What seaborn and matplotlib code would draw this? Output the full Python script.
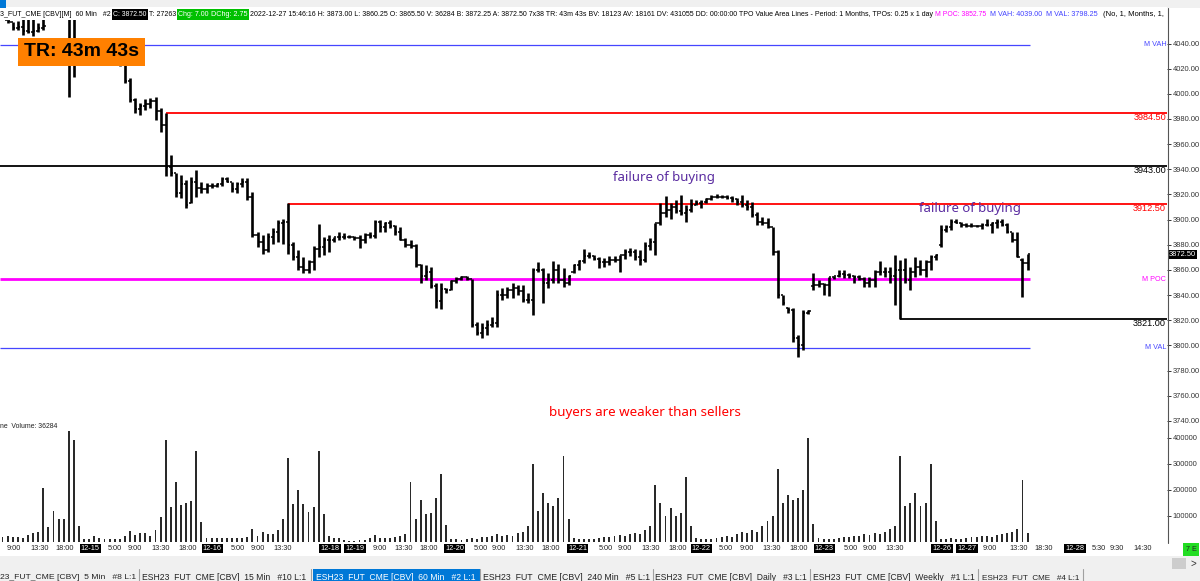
import numpy as np
import seaborn as sns
import matplotlib
matplotlib.use('Agg')  # no display
import matplotlib.pyplot as plt
from matplotlib.patches import Rectangle
from matplotlib.lines import Line2D
from matplotlib.transforms import blended_transform_factory

# ESH23 60 min bars, 2022-12-14 .. 2022-12-27
bar_high = [
    4068, 4059, 4057, 4058, 4060, 4060, 4060, 4056, 4060, 4044,
    4042, 4040, 4042, 4066, 4064, 4044, 4042, 4040, 4043, 4044,
    4042, 4038, 4036, 4034, 4023, 4012.5, 3997, 3993, 3996, 3997,
    3997.5, 3989, 3985, 3951, 3937, 3935.5, 3931.5, 3934, 3939.5, 3930,
    3929, 3929, 3929, 3934, 3934, 3930, 3930, 3933, 3933, 3922,
    3890, 3888, 3889.5, 3893, 3900, 3900.5, 3913, 3882, 3876, 3870,
    3868, 3879, 3896.5, 3886, 3888, 3886, 3890, 3889, 3888, 3887,
    3888, 3889.5, 3890, 3900, 3900, 3898, 3900, 3896, 3894, 3885,
    3884, 3881, 3865, 3864, 3862, 3849.5, 3849.5, 3845.5, 3852, 3854,
    3855, 3855, 3853, 3818.5, 3817.5, 3820, 3822.5, 3844, 3845.5, 3846.5,
    3849.5, 3848, 3848, 3842, 3861.5, 3866, 3861.5, 3857.5, 3867, 3865,
    3861.5, 3856, 3865, 3868, 3877, 3874, 3872, 3870, 3869.5, 3871,
    3871, 3872, 3877, 3877.5, 3877, 3876, 3882, 3885, 3897, 3913,
    3918.5, 3913, 3915.5, 3919.5, 3911.5, 3916, 3915.5, 3915.5, 3917, 3919.5,
    3920, 3919.5, 3919.5, 3918.5, 3917, 3919.5, 3915.5, 3914, 3906, 3902,
    3901, 3894, 3876, 3840, 3830.5, 3830, 3808, 3828, 3828, 3857.5,
    3852, 3850, 3854, 3855, 3860, 3860, 3857.5, 3856, 3856, 3854,
    3854, 3860, 3867, 3862, 3862, 3872, 3868, 3869.5, 3862, 3870,
    3868, 3868, 3872, 3873, 3895.5, 3895.5, 3900.5, 3900.5, 3898, 3897,
    3897, 3896, 3897, 3900.5, 3898, 3900.5, 3900.5, 3897, 3890, 3890,
    3869.5, 3873,
]
bar_low = [
    4060, 4056, 4051, 4051, 4047, 4048, 4046, 4049, 4051, 4036,
    4032, 4030, 4033, 3997.5, 4013, 4030, 4028, 4026, 4030, 4034,
    4030, 4027, 4025, 4022, 4008.5, 3993.5, 3985, 3983, 3987, 3989,
    3979, 3970, 3935, 3935, 3918, 3917, 3909, 3913, 3918, 3921,
    3921, 3925, 3926, 3927, 3930, 3922, 3921, 3926, 3915.5, 3886,
    3878, 3873, 3874, 3881, 3882, 3881, 3873, 3868, 3860, 3857.5,
    3857.5, 3860, 3870, 3872, 3874, 3882, 3884, 3884.5, 3885, 3884,
    3877.5, 3881.5, 3885.5, 3885.5, 3890, 3890, 3893, 3888, 3884, 3878,
    3877.5, 3862, 3850, 3852, 3845.5, 3830, 3829, 3842, 3844, 3849.5,
    3852, 3852, 3814.5, 3808, 3806, 3808, 3814.5, 3814.5, 3836, 3838,
    3838, 3840, 3834.5, 3834, 3824, 3858, 3834, 3845.5, 3850, 3849.5,
    3846.5, 3848, 3857.5, 3860, 3865.5, 3869.5, 3868, 3861.5, 3862, 3864,
    3866, 3858.5, 3869, 3871, 3868, 3864, 3866.5, 3876, 3872, 3895.5,
    3902, 3900.5, 3905, 3903.5, 3898, 3906, 3911.5, 3909, 3913, 3915.5,
    3917, 3917, 3916, 3914, 3911.5, 3910, 3908, 3902, 3896, 3896,
    3893, 3872, 3838, 3832, 3826, 3803, 3791, 3796, 3825, 3844,
    3846.5, 3840, 3839, 3853, 3854, 3853.5, 3853.5, 3850, 3852, 3846.5,
    3846.5, 3846.5, 3856, 3854, 3849.5, 3832, 3821, 3849.5, 3844, 3854,
    3856, 3854, 3860, 3868, 3878, 3890, 3891.5, 3897, 3894, 3894,
    3894.5, 3894, 3892.5, 3895, 3889, 3893, 3895, 3889, 3882, 3870,
    3838.5, 3860.25,
]
bar_open = [
    4066, 4062, 4058, 4052, 4053, 4050, 4049, 4050, 4052, 4043,
    4040, 4034, 4036, 4040, 4030, 4038, 4036, 4032, 4035, 4040,
    4038, 4033, 4030, 4028, 4023, 4010, 3995, 3988, 3990, 3992,
    3994, 3986, 3975, 3942, 3937, 3921, 3928, 3912, 3930, 3925,
    3924, 3927, 3927, 3928, 3932, 3930, 3924, 3928, 3930, 3918,
    3888, 3882, 3876, 3886, 3890, 3897, 3898, 3880, 3870, 3862,
    3860, 3866, 3877, 3878, 3884, 3884, 3886, 3886, 3886, 3886,
    3885, 3884, 3888, 3887, 3898, 3894, 3897, 3895, 3890, 3884,
    3880, 3879, 3864, 3855, 3858, 3847, 3835, 3845, 3844, 3851,
    3853, 3854, 3853, 3816, 3810, 3814, 3816, 3818, 3840, 3840,
    3844, 3846, 3843, 3836, 3836, 3860, 3860, 3850, 3852, 3860,
    3852, 3850, 3858, 3864, 3867, 3871, 3871, 3869, 3866, 3866,
    3868, 3868, 3872, 3874, 3874, 3870, 3868, 3879, 3882, 3897,
    3905, 3908, 3910, 3907, 3905, 3908, 3912, 3913, 3914, 3916,
    3918, 3918, 3918, 3917, 3916, 3914, 3912, 3910, 3904, 3898,
    3897, 3894, 3874, 3840, 3830, 3828, 3806, 3800, 3826, 3847,
    3848, 3849, 3848, 3854, 3855, 3857, 3856, 3855, 3854, 3853,
    3850, 3852, 3858, 3858, 3858, 3855, 3860, 3860, 3852, 3858,
    3862, 3860, 3866, 3870, 3880, 3892, 3894, 3898, 3897, 3896,
    3895, 3895, 3895, 3896, 3896, 3897, 3898, 3896, 3890, 3884,
    3868, 3865.5,
]
bar_close = [
    4062, 4058, 4052, 4053, 4050, 4049, 4050, 4052, 4054, 4040,
    4034, 4036, 4040, 4030, 4038, 4036, 4032, 4035, 4040, 4038,
    4033, 4030, 4028, 4023, 4010, 3995, 3988, 3990, 3992, 3994,
    3986, 3975, 3942, 3937, 3921, 3928, 3912, 3930, 3925, 3924,
    3927, 3927, 3928, 3932, 3930, 3924, 3928, 3930, 3918, 3888,
    3882, 3876, 3886, 3890, 3897, 3898, 3880, 3870, 3862, 3860,
    3866, 3877, 3878, 3884, 3884, 3886, 3886, 3886, 3886, 3885,
    3884, 3888, 3887, 3898, 3894, 3897, 3895, 3890, 3884, 3880,
    3879, 3864, 3855, 3858, 3847, 3835, 3845, 3844, 3851, 3853,
    3854, 3853, 3816, 3810, 3814, 3816, 3818, 3840, 3840, 3844,
    3846, 3843, 3836, 3836, 3860, 3860, 3850, 3852, 3860, 3852,
    3850, 3855, 3864, 3867, 3871, 3871, 3869, 3866, 3866, 3868,
    3868, 3872, 3874, 3874, 3870, 3868, 3879, 3882, 3897, 3905,
    3908, 3910, 3907, 3905, 3908, 3912, 3913, 3914, 3916, 3918,
    3918, 3918, 3917, 3916, 3914, 3912, 3910, 3904, 3898, 3897,
    3894, 3874, 3840, 3834, 3828, 3806, 3800, 3826, 3827, 3848,
    3849, 3848, 3854, 3855, 3857, 3856, 3855, 3854, 3853, 3850,
    3852, 3858, 3858, 3858, 3855, 3860, 3860, 3852, 3858, 3862,
    3860, 3866, 3870, 3872, 3892, 3894, 3898, 3897, 3896, 3895,
    3895, 3895, 3896, 3896, 3897, 3898, 3896, 3890, 3884, 3870,
    3865.5, 3872.5,
]
bar_volume = [
    20000, 23000, 19000, 20000, 17000, 27000, 35000, 38000, 208000, 58000,
    119000, 88000, 88000, 427000, 392000, 62000, 12000, 12000, 23000, 15000,
    10000, 10000, 10000, 10000, 23000, 42000, 27000, 35000, 35000, 23000,
    46000, 96000, 392000, 135000, 231000, 142000, 150000, 158000, 350000, 77000,
    15000, 15000, 15000, 15000, 15000, 15000, 15000, 17000, 20000, 50000,
    23000, 38000, 31000, 30000, 46000, 88000, 323000, 146000, 200000, 146000,
    115000, 135000, 350000, 108000, 23000, 17000, 17000, 8000, 3000, 3000,
    8000, 8000, 15000, 27000, 15000, 17000, 17000, 20000, 23000, 31000,
    231000, 88000, 162000, 108000, 113000, 169000, 262000, 65000, 12000, 10000,
    8000, 10000, 15000, 12000, 20000, 18000, 25000, 30000, 22000, 28000,
    25000, 35000, 40000, 60000, 300000, 120000, 190000, 150000, 140000, 170000,
    330000, 90000, 15000, 12000, 10000, 10000, 12000, 15000, 20000, 18000,
    22000, 28000, 25000, 30000, 35000, 30000, 45000, 60000, 220000, 150000,
    100000, 130000, 100000, 110000, 250000, 60000, 15000, 12000, 12000, 10000,
    15000, 20000, 25000, 20000, 30000, 40000, 35000, 45000, 40000, 60000,
    80000, 100000, 280000, 150000, 180000, 160000, 170000, 200000, 400000, 70000,
    15000, 12000, 10000, 12000, 15000, 20000, 18000, 25000, 22000, 30000,
    28000, 35000, 30000, 40000, 50000, 60000, 330000, 140000, 150000, 190000,
    140000, 150000, 300000, 80000, 10000, 12000, 15000, 10000, 12000, 15000,
    20000, 18000, 25000, 22000, 20000, 28000, 30000, 35000, 40000, 50000,
    240000, 36284,
]

# time scale labels and the bar slot they sit on
time_labels = ['9:00', '13:30', '18:00', '12-15', '5:00', '9:00', '13:30', '18:00', '12-16',
               '5:00', '9:00', '13:30', '12-18', '12-19', '9:00', '13:30', '18:00', '12-20',
               '5:00', '9:00', '13:30', '18:00', '12-21', '5:00', '9:00', '13:30', '18:00', '12-22',
               '5:00', '9:00', '13:30', '18:00', '12-23', '5:00', '9:00', '13:30', '12-26', '12-27',
               '9:00', '13:30', '18:30', '12-28', '5:30', '9:30', '14:30']
time_slots = [2.25, 7.35, 12.25, 17.2, 22.1, 26, 31.1, 36.4, 41.1,
              46.2, 50.1, 55, 64.2, 69.1, 74, 78.7, 83.6, 88.7,
              93.8, 97.3, 102.3, 107.5, 112.8, 118.3, 122, 127, 132.3, 137,
              141.9, 146, 150.9, 156.2, 161.1, 166.4, 170.1, 175, 184.2, 189.1,
              193.6, 199.3, 204.2, 210.3, 215, 218.5, 223.6]

# TPO value area and drawn levels
level_names = ['M VAH', '3984.50', '3943.00', '3912.50', 'M POC', '3821.00', 'M VAL']
level_price = [4039.00, 3984.50, 3943.00, 3912.50, 3852.75, 3821.00, 3798.25]
level_first_bar = [0, 32, 0, 56, 0, 176, 0]
value_area = ['M VAH', 'M POC', 'M VAL']  # these stop at the last bar

last_price = 3872.50
price_ticks = list(range(3740, 4041, 20))
volume_ticks = [100000, 200000, 300000, 400000]

level_colors = {'M VAH': '#4646ff', '3984.50': '#ff0000', '3943.00': '#000000',
                '3912.50': '#ff0000', 'M POC': '#ff00ff', '3821.00': '#000000',
                'M VAL': '#4646ff'}

W, H = 1200, 581
FONT = ['Liberation Sans', 'DejaVu Sans']
NOTE_FONT = ['Noto Sans', 'DejaVu Sans']

sns.set_theme(style='white')
plt.rcParams['font.family'] = FONT

fig = plt.figure(figsize=(W / 100, H / 100), dpi=100)
fig.patch.set_facecolor('white')
renderer = fig.canvas.get_renderer()


def fx(px):
    return px / W


def fy(py):
    return 1 - py / H


def box(x0, y0, x1, y1, color, z=1):
    fig.patches.append(Rectangle((fx(x0), fy(y1)), fx(x1) - fx(x0), fy(y0) - fy(y1),
                                 transform=fig.transFigure, facecolor=color,
                                 edgecolor='none', zorder=z))


def fit_text(x0, x1, py, s, color='black', **kw):
    """Place text at left x0 and scale the font so it ends at x1."""
    t = fig.text(fx(x0), fy(py), s, color=color, ha='left', va='center',
                 fontsize=6, zorder=5, **kw)
    w = t.get_window_extent(renderer=renderer).width
    t.set_fontsize(6 * (x1 - x0) / w)
    return t


# axes: price panel and volume panel
PLOT_R = 1167
ax = fig.add_axes([0, fy(428), fx(PLOT_R), (428 - 20) / H])
axv = fig.add_axes([0, fy(543), fx(PLOT_R), (543 - 428) / H])

slot0, slot_w = 2.5, 5.1
xlim = (-slot0 / slot_w, (PLOT_R - slot0) / slot_w)
px_per_pt = 1.258
ylim = (4040 - (428 - 43.5) / px_per_pt, 4040 + (43.5 - 20) / px_per_pt)

x = np.arange(len(bar_close))
lo = np.array(bar_low)
hi = np.array(bar_high)

# value area / level lines
last_slot = x[-1] + 0.5
for name, price, first in zip(level_names, level_price, level_first_bar):
    end = last_slot if name in value_area else xlim[1]
    lw = 2.0 if name == 'M POC' else (0.9 if name in value_area else 1.3)
    ax.plot([first - 0.5 if first == 0 else first, end], [price, price],
            color=level_colors[name], lw=lw, zorder=2, solid_capstyle='butt')

# OHLC bars
ax.vlines(x, lo, hi, color='black', lw=1.9, zorder=3)
ax.hlines(np.clip(bar_open, lo, hi), x - 0.45, x, color='black', lw=1.1, zorder=3)
ax.hlines(np.clip(bar_close, lo, hi), x, x + 0.45, color='black', lw=1.1, zorder=3)

ax.set_xlim(*xlim)
ax.set_ylim(*ylim)
ax.set_xticks([])
ax.set_yticks(price_ticks)
ax.yaxis.set_major_formatter('{x:.2f}')
ax.yaxis.tick_right()
ax.tick_params(axis='y', right=True, left=False, length=3, width=0.7, pad=1,
               labelsize=5.4, colors='#333333')
for s in ax.spines.values():
    s.set_visible(False)

# level labels at the right end of the plot area
tr = blended_transform_factory(ax.transAxes, ax.transData)
for name, price in zip(level_names, level_price):
    small = name in value_area
    ax.text(0.9993, price, name, transform=tr, ha='right',
            va='center' if small else 'top', color=level_colors[name],
            fontsize=5.2 if small else 6.6, zorder=4)

ax.text(1.0015, last_price, f'{last_price:.2f}', transform=tr, ha='left', va='center',
        color='white', fontsize=5.4, clip_on=False, zorder=6,
        bbox=dict(boxstyle='square,pad=0.12', facecolor='black', edgecolor='none'))

# annotations
ax.text(129.7, 3933.1, 'failure of buying', color='#5a2ca0', fontsize=9.5,
        ha='center', va='center', family=NOTE_FONT)
ax.text(189.7, 3909.2, 'failure of buying', color='#5a2ca0', fontsize=9.5,
        ha='center', va='center', family=NOTE_FONT)
ax.text(126.0, 3746.3, 'buyers are weaker than sellers', color='#ff0000', fontsize=9.6,
        ha='center', va='center', family=NOTE_FONT)

# volume panel
sns.barplot(x=x, y=bar_volume, native_scale=True, orient='x', width=0.38,
            color='#2a2a2a', saturation=1, linewidth=0, errorbar=None, ax=axv)
axv.set_xlim(*xlim)
axv.set_ylim(-100000 / 26, 114 * 100000 / 26)
axv.set_xlabel('')
axv.set_ylabel('')
axv.set_yticks(volume_ticks)
axv.yaxis.set_major_formatter('{x:.0f}')
axv.yaxis.tick_right()
axv.tick_params(axis='y', right=True, left=False, length=3, width=0.7, pad=1,
                labelsize=5.4, colors='#333333')
axv.set_xticks(time_slots)
axv.set_xticklabels(time_labels)
axv.tick_params(axis='x', bottom=False, length=0, pad=1.2, labelsize=5.3, colors='#222222')
for lbl in axv.get_xticklabels():
    if '-' in lbl.get_text():
        lbl.set_color('white')
        lbl.set_bbox(dict(boxstyle='square,pad=0.15', facecolor='black', edgecolor='none'))
for s in axv.spines.values():
    s.set_visible(False)

fit_text(0, 58, 426, 'ne  Volume: 36284', color='#222222')

# right hand axis line
fig.lines.append(Line2D([fx(PLOT_R + 0.5)] * 2, [fy(8), fy(543)], transform=fig.transFigure,
                        color='#555555', lw=0.8, zorder=4))

# window strip and header line
box(0, 0, W, 7.5, '#f0f0f0')
box(0, 0, 6, 8, '#0078d7', z=2)
box(0, 7.5, PLOT_R, 20, 'white')
header = [
    (0, 111, '3_FUT_CME [CBV][M]  60 Min   #2', 'black', None),
    (113, 147, 'C: 3872.50', 'white', 'black'),
    (149, 176, 'T: 27263', 'black', None),
    (178, 209, 'Chg: 7.00', 'white', '#00c000'),
    (211, 248, 'DChg: 2.75', 'white', '#00c000'),
    (250, 931, '2022-12-27 15:46:16 H: 3873.00 L: 3860.25 O: 3865.50 V: 36284 '
               'B: 3872.25 A: 3872.50 7x38 TR: 43m 43s BV: 18123 AV: 18161 DV: 431055 '
               'DD: 00:00:00 TPO Value Area Lines - Period: 1 Months, TPOs: 0.25 x 1 day',
     'black', None),
    (935, 987, 'M POC: 3852.75', '#ff00ff', None),
    (990, 1042, 'M VAH: 4039.00', '#4040ff', None),
    (1046, 1098, 'M VAL: 3798.25', '#4040ff', None),
    (1103, 1165, '(No, 1, Months, 1,', 'black', None),
]
for x0, x1, s, fg, bg in header:
    if bg:
        box(x0 - 1, 8.5, x1 + 1, 19.5, bg, z=2)
    fit_text(x0, x1, 14, s, color=fg)

# TR box
box(18, 38, 145, 66, '#ff8000', z=3)
fig.text(fx(81.5), fy(52), 'TR: 43m 43s', ha='center', va='center', fontsize=14,
         fontweight='bold', color='black', zorder=5)

# bottom strip: scroll bar and chart tabs
box(0, 556, W, H, '#f0f0f0')
box(1183, 543, 1199, 556, '#22dd22', z=2)
fig.text(fx(1191), fy(549.5), '7 E', ha='center', va='center', fontsize=5.2, zorder=5)
box(1172, 558, 1186, 569, '#cdcdcd', z=2)
fig.text(fx(1193), fy(563.5), '>', ha='center', va='center', fontsize=7, color='#333333', zorder=5)
tabs = [
    (0, 136, '23_FUT_CME [CBV]  5 Min   #8 L:1'),
    (142, 308, 'ESH23_FUT_CME [CBV]  15 Min   #10 L:1'),
    (316, 477, 'ESH23_FUT_CME [CBV]  60 Min   #2 L:1'),
    (483, 650, 'ESH23_FUT_CME [CBV]  240 Min   #5 L:1'),
    (655, 807, 'ESH23_FUT_CME [CBV]  Daily   #3 L:1'),
    (813, 975, 'ESH23_FUT_CME [CBV]  Weekly   #1 L:1'),
    (982, 1080, 'ESH23_FUT_CME   #4 L:1'),
]
box(313, 569, 480, H, '#0078d7', z=2)
for x0, x1, s in tabs:
    selected = '60 Min' in s
    fit_text(x0, x1, 577.5, s, color='white' if selected else '#222222')
    fig.lines.append(Line2D([fx(x1 + 2.5)] * 2, [fy(569), fy(H)], transform=fig.transFigure,
                            color='#a0a0a0', lw=0.8, zorder=4))

fig.savefig('out.png', dpi=100)
